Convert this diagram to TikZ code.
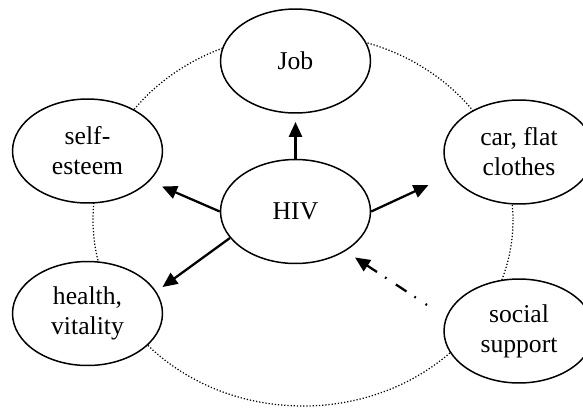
\documentclass[tikz,border=0pt]{standalone}
\usepackage{fontspec}
\setmainfont{Liberation Serif}
\usepackage{tikz}
\usetikzlibrary{shapes.geometric,arrows.meta}

\begin{document}
\begin{tikzpicture}[
  x=0.02cm,y=-0.02cm,
  oval/.style={ellipse,draw,line width=0.85pt,fill=white,minimum width=3cm,minimum height=2.08cm,inner sep=0pt,align=center,font=\fontsize{14.6}{17}\selectfont},
  arr/.style={-{Triangle[length=8.5pt,width=7.5pt]},line width=1.3pt},
  ring/.style={line width=0.7pt,dash pattern=on 0.7pt off 1.1pt},
]

\useasboundingbox (0,0) rectangle (583,407);

% Ring behind the nodes
\draw[ring] (303,220) ellipse [x radius=210,y radius=186];

% Nodes
\node[oval] (job) at (295.5,61) {Job};
\node[oval] (self) at (87.5,151) {self-\\esteem};
\node[oval] (car) at (519,152) {car, flat\\clothes};
\node[oval] (hiv) at (295.5,211.5) {HIV};
\node[oval] (health) at (87.5,313.5) {health,\\vitality};
\node[oval] (social) at (519,331) {social\\support};

% Arrow ends
\coordinate (jobtip) at (295.5,122);
\coordinate (selftip) at (162,186.5);
\coordinate (cartip) at (428.5,185);
\coordinate (healthtip) at (162.5,287);
\coordinate (hivtip) at (355,257.5);
\coordinate (socialtail) at (427,305);

% Arrows
\draw[arr] (hiv.north) -- (jobtip);
\draw[arr] (hiv.west) -- (selftip);
\draw[arr] (hiv.east) -- (cartip);
\draw[arr] (hiv.202) -- (healthtip);
\draw[arr,dash pattern=on 1pt off 6.6pt on 1pt off 5.4pt on 7.2pt off 6.4pt on 1pt off 5.5pt on 20pt] (socialtail) -- (hivtip);

\end{tikzpicture}
\end{document}
